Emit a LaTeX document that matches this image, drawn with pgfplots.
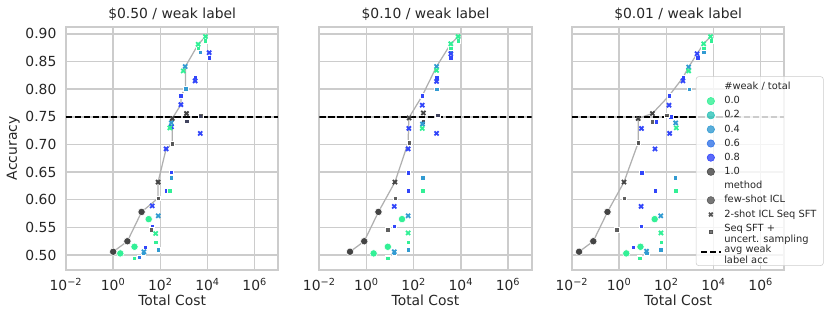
\documentclass[border=0pt]{standalone}
\usepackage{fontspec}
\setmainfont{DejaVu Sans}
\usepackage{pgfplots}
\pgfplotsset{compat=1.18}

\definecolor{gridgray}{RGB}{204,204,204}
\definecolor{txt}{RGB}{38,38,38}
\definecolor{cA}{RGB}{50,240,150}
\definecolor{cB}{RGB}{45,195,185}
\definecolor{cC}{RGB}{50,155,210}
\definecolor{cD}{RGB}{50,115,232}
\definecolor{cE}{RGB}{50,70,250}
\definecolor{cF}{RGB}{68,68,68}
\definecolor{methgray}{RGB}{85,85,85}
\definecolor{frontier}{RGB}{176,176,176}

\pgfplotsset{
  every axis title/.style={at={(axis description cs:0.5,1)}, anchor=base, yshift=6pt,
    font=\fontsize{10}{12}\selectfont, text=txt},
  every axis x label/.style={at={(axis description cs:0.5,0)}, anchor=base, yshift=-25.2pt,
    font=\fontsize{10}{12}\selectfont, text=txt},
  every axis y label/.style={at={(axis description cs:0,0.5)}, xshift=-35.3pt, rotate=90, anchor=base,
    font=\fontsize{10}{12}\selectfont, text=txt},
  msq/.style={only marks, mark=square*, mark size=1.6pt, mark options={draw=white, line width=0.3pt}},
  mcr/.style={only marks, mark=*, mark size=2.65pt, mark options={draw=white, line width=0.4pt}},
  mxx/.style={only marks, mark=x, mark size=2.1pt, mark options={line width=1.3pt}},
  mfront/.style={frontier, line width=0.9pt, no marks},
  mavg/.style={black, line width=1.3pt, dash pattern=on 4.5pt off 2pt, no marks},
  legmark/.style={legend image code/.code={\draw[##1] plot coordinates {(7pt,0pt)};}},
  legline/.style={legend image code/.code={\draw[##1] (0pt,0pt) -- (14pt,0pt);}},
}

\begin{document}
\begin{tikzpicture}

% ---- $0.50 / weak label
\begin{axis}[
  width=152.9pt, height=175.2pt, scale only axis,
  xmode=log, xmin=1e-2, xmax=1e7, ymin=0.473, ymax=0.913,
  xtick={1e-2,1,1e2,1e4,1e6},
  xticklabels={10\textsuperscript{−2},10\textsuperscript{0},10\textsuperscript{2},10\textsuperscript{4},10\textsuperscript{6}},
  ytick={0.5,0.55,0.6,0.65,0.7,0.75,0.8,0.85,0.9},
  grid=major, grid style={draw=gridgray, line width=1pt},
  axis line style={draw=gridgray, line width=1.25pt},
  major tick length=0pt, minor tick length=0pt,
  /pgf/number format/assume math mode=true,
  tick label style={font=\fontsize{10}{12}\selectfont, text=txt},
  xticklabel style={anchor=base, yshift=-15.1pt},
  yticklabel style={anchor=east, xshift=-3.4pt},
  y tick label style={/pgf/number format/fixed, /pgf/number format/fixed zerofill, /pgf/number format/precision=2},
  xlabel={Total Cost},
  title={\$0.50 / weak label}, ylabel={Accuracy}]
\addplot[mfront] coordinates {(1,0.506) (4,0.525) (16,0.578) (80,0.603) (80,0.632) (175,0.692) (320,0.701) (320,0.747) (740,0.772) (740,0.788) (1150,0.801) (1150,0.841) (4000,0.881) (8150,0.895)};
\addplot[mavg] coordinates {(1e-2,0.75) (1e7,0.75)};
\addplot[msq, cE] coordinates {(45,0.552) (175,0.616) (295,0.650) (740,0.788) (2970,0.822) (11700,0.857) (23,0.514) (1300,0.741) (5000,0.751)};
\addplot[msq, cD] coordinates {(12.5,0.496)};
\addplot[msq, cC] coordinates {(19,0.503) (81,0.510) (295,0.640) (1200,0.801) (4900,0.867)};
\addplot[msq, cA] coordinates {(7.8,0.494) (63,0.523) (252,0.616) (3990,0.874) (8150,0.888)};
\addplot[msq, cF, fill opacity=0.85] coordinates {(40,0.546) (80,0.603) (320,0.701) (1280,0.742) (5120,0.752)};
\addplot[mxx, cE] coordinates {(45,0.589) (175,0.692) (295,0.732) (740,0.772) (2970,0.815) (11700,0.866) (4900,0.720)};
\addplot[mxx, cC] coordinates {(81,0.571) (1120,0.841) (290,0.739) (20,0.506)};
\addplot[mxx, cA] coordinates {(63,0.539) (252,0.730) (930,0.833) (3990,0.881) (8150,0.895)};
\addplot[mxx, cF] coordinates {(80,0.632) (320,0.747) (1280,0.756)};
\addplot[mcr, cA] coordinates {(2,0.503) (8,0.515) (32,0.565)};
\addplot[mcr, cF] coordinates {(1,0.506) (4,0.525) (16,0.578)};
\end{axis}

% ---- $0.10 / weak label
\begin{axis}[at={(182.4pt,0pt)},
  width=152.9pt, height=175.2pt, scale only axis,
  xmode=log, xmin=1e-2, xmax=1e7, ymin=0.473, ymax=0.913,
  xtick={1e-2,1,1e2,1e4,1e6},
  xticklabels={10\textsuperscript{−2},10\textsuperscript{0},10\textsuperscript{2},10\textsuperscript{4},10\textsuperscript{6}},
  ytick={0.5,0.55,0.6,0.65,0.7,0.75,0.8,0.85,0.9}, yticklabels={},
  grid=major, grid style={draw=gridgray, line width=1pt},
  axis line style={draw=gridgray, line width=1.25pt},
  major tick length=0pt, minor tick length=0pt,
  tick label style={font=\fontsize{10}{12}\selectfont, text=txt},
  xticklabel style={anchor=base, yshift=-15.1pt},
  xlabel={Total Cost},
  title={\$0.10 / weak label}]
\addplot[mfront] coordinates {(0.2,0.506) (0.8,0.525) (3.2,0.578) (16,0.632) (58,0.703) (62,0.748) (230,0.788) (930,0.841) (3730,0.882) (7640,0.895)};
\addplot[mavg] coordinates {(1e-2,0.75) (1e7,0.75)};
\addplot[msq, cE] coordinates {(15,0.552) (58,0.616) (58,0.649) (230,0.788) (930,0.821) (3730,0.857) (7.8,0.514) (256,0.740) (1024,0.752)};
\addplot[msq, cD] coordinates {(7.8,0.496)};
\addplot[msq, cC] coordinates {(15,0.503) (58,0.510) (236,0.640) (930,0.800) (3730,0.867)};
\addplot[msq, cA] coordinates {(7.8,0.494) (58,0.523) (236,0.616) (3730,0.874) (7640,0.888)};
\addplot[msq, cF, fill opacity=0.85] coordinates {(8,0.546) (16,0.603) (64,0.703) (256,0.741) (1024,0.753)};
\addplot[mxx, cE] coordinates {(15,0.588) (58,0.692) (62,0.729) (230,0.771) (930,0.814) (930,0.720) (3730,0.864)};
\addplot[mxx, cC] coordinates {(58,0.571) (930,0.841) (236,0.737) (15,0.506)};
\addplot[mxx, cA] coordinates {(58,0.540) (230,0.729) (930,0.834) (3730,0.882) (7640,0.895)};
\addplot[mxx, cF] coordinates {(16,0.632) (64,0.748) (256,0.757)};
\addplot[mcr, cA] coordinates {(2,0.503) (8,0.515) (32,0.565)};
\addplot[mcr, cF] coordinates {(0.2,0.506) (0.8,0.525) (3.2,0.578)};
\end{axis}

% ---- $0.01 / weak label
\begin{axis}[at={(364.3pt,0pt)},
  width=152.9pt, height=175.2pt, scale only axis,
  xmode=log, xmin=1e-2, xmax=1e7, ymin=0.473, ymax=0.913,
  xtick={1e-2,1,1e2,1e4,1e6},
  xticklabels={10\textsuperscript{−2},10\textsuperscript{0},10\textsuperscript{2},10\textsuperscript{4},10\textsuperscript{6}},
  ytick={0.5,0.55,0.6,0.65,0.7,0.75,0.8,0.85,0.9}, yticklabels={},
  grid=major, grid style={draw=gridgray, line width=1pt},
  axis line style={draw=gridgray, line width=1.25pt},
  major tick length=0pt, minor tick length=0pt,
  tick label style={font=\fontsize{10}{12}\selectfont, text=txt},
  xticklabel style={anchor=base, yshift=-15.1pt},
  xlabel={Total Cost},
  title={\$0.01 / weak label},
  legend cell align=left,
  legend style={font=\fontsize{7.1}{8}\selectfont, text=txt, at={(0.583,0.796)}, anchor=north west,
    draw=gridgray, fill=white, fill opacity=0.8, text opacity=1, draw opacity=1,
    rounded corners=2pt, row sep=-0.6pt, inner xsep=3pt, inner ysep=2pt}]
\addplot[mfront, forget plot] coordinates {(0.02,0.506) (0.08,0.525) (0.32,0.578) (1.6,0.632) (6.4,0.703) (6.4,0.747) (25.6,0.756) (130,0.788) (505,0.821) (880,0.840) (2000,0.864) (3790,0.882) (7470,0.895)};
\addplot[mavg, forget plot] coordinates {(1e-2,0.75) (1e7,0.75)};
\addplot[msq, cE, forget plot] coordinates {(8.5,0.552) (33,0.616) (9.1,0.649) (130,0.788) (505,0.821) (2170,0.857) (4,0.514) (35,0.741) (152,0.750)};
\addplot[msq, cD, forget plot] coordinates {(7.2,0.496)};
\addplot[msq, cC, forget plot] coordinates {(14.7,0.503) (57.6,0.510) (232,0.640) (910,0.800) (3790,0.867)};
\addplot[msq, cA, forget plot] coordinates {(7.3,0.494) (59,0.523) (246,0.616) (3790,0.874) (7960,0.888)};
\addplot[msq, cF, fill opacity=0.85, forget plot] coordinates {(0.8,0.546) (1.6,0.603) (6.4,0.703) (25.6,0.741) (102,0.753)};
\addplot[mxx, cE, forget plot] coordinates {(8.5,0.588) (33,0.692) (8.8,0.729) (130,0.771) (505,0.815) (138,0.720) (2000,0.864)};
\addplot[mxx, cC, forget plot] coordinates {(58,0.571) (880,0.840) (248,0.739) (14.5,0.507)};
\addplot[mxx, cA, forget plot] coordinates {(59,0.540) (264,0.730) (880,0.833) (3790,0.882) (7470,0.895)};
\addplot[mxx, cF, forget plot] coordinates {(1.6,0.632) (6.4,0.747) (25.6,0.756)};
\addplot[mcr, cA, forget plot] coordinates {(2,0.503) (8,0.515) (32,0.565)};
\addplot[mcr, cF, forget plot] coordinates {(0.02,0.506) (0.08,0.525) (0.32,0.578)};

\addlegendimage{empty legend}
\addlegendentry{\#weak / total}
\addlegendimage{legmark, mark=*, mark size=2.65pt, cA}
\addlegendentry{0.0}
\addlegendimage{legmark, mark=*, mark size=2.65pt, cB}
\addlegendentry{0.2}
\addlegendimage{legmark, mark=*, mark size=2.65pt, cC}
\addlegendentry{0.4}
\addlegendimage{legmark, mark=*, mark size=2.65pt, cD}
\addlegendentry{0.6}
\addlegendimage{legmark, mark=*, mark size=2.65pt, cE}
\addlegendentry{0.8}
\addlegendimage{legmark, mark=*, mark size=2.65pt, cF}
\addlegendentry{1.0}
\addlegendimage{empty legend}
\addlegendentry{method}
\addlegendimage{legmark, mark=*, mark size=2.65pt, methgray}
\addlegendentry{few-shot ICL}
\addlegendimage{legmark, mark=x, mark size=1.9pt, methgray, mark options={line width=1.2pt}}
\addlegendentry{2-shot ICL Seq SFT}
\addlegendimage{legmark, mark=square*, mark size=1.25pt, methgray}
\addlegendentry{\begin{tabular}{@{}l@{}}Seq SFT +\\uncert. sampling\end{tabular}}
\addlegendimage{legline, black, line width=1.3pt, dash pattern=on 4.5pt off 2pt}
\addlegendentry{\begin{tabular}{@{}l@{}}avg weak\\label acc\end{tabular}}
\end{axis}

\pgfresetboundingbox
\path[use as bounding box] (-47.52pt,-36.72pt) rectangle (550.08pt,194.4pt);
\end{tikzpicture}
\end{document}
